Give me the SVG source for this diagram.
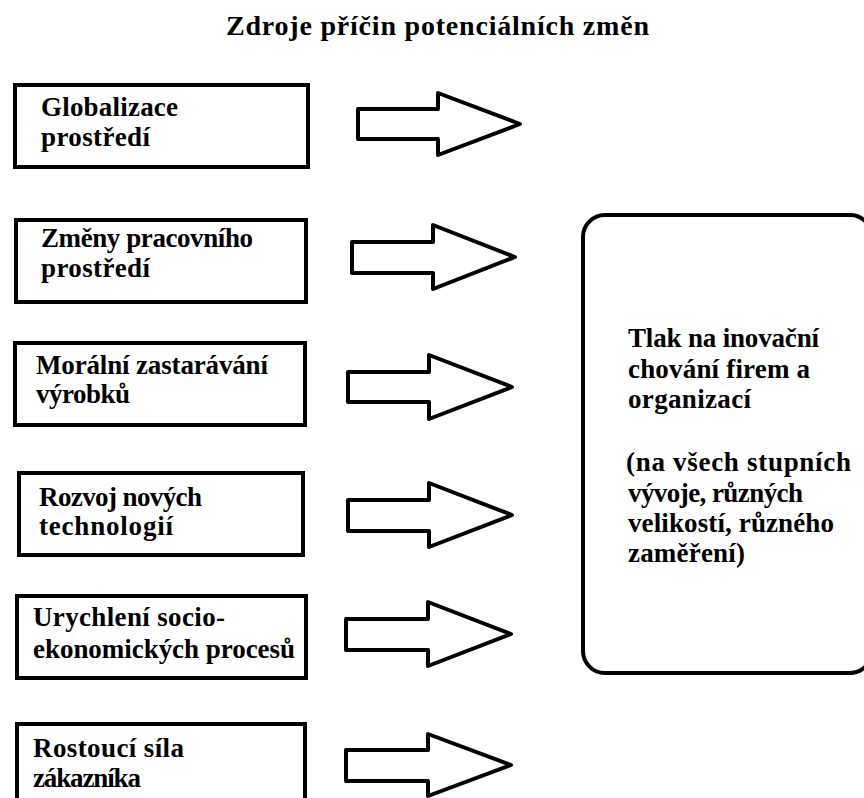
<svg xmlns="http://www.w3.org/2000/svg" width="864" height="798" viewBox="0 0 864 798">
<style>
  .bg { fill: #ffffff; }
  .box { fill: #ffffff; stroke: #000000; stroke-width: 4; }
  .arrow { fill: #ffffff; stroke: #000000; stroke-width: 4; stroke-linejoin: round; }
  text { font-family: "Liberation Serif", "Times New Roman", "DejaVu Serif", serif; font-weight: 700; font-size: 27px; fill: #000000; }
  .title { font-size: 28px; }
</style>
<rect class="bg" x="0" y="0" width="864" height="798"/>
<text class="title" x="226" y="35" textLength="423" lengthAdjust="spacing">Zdroje příčin potenciálních změn</text>

<g id="node-globalizace">
  <rect class="box" x="15" y="85" width="293" height="82"/>
  <text x="41" y="116" textLength="137" lengthAdjust="spacing">Globalizace</text>
  <text x="41" y="146" textLength="109" lengthAdjust="spacing">prostředí</text>
</g>
<g id="node-zmeny">
  <rect class="box" x="16" y="220" width="290" height="82"/>
  <text x="41" y="247" textLength="212" lengthAdjust="spacing">Změny pracovního</text>
  <text x="41" y="277" textLength="109" lengthAdjust="spacing">prostředí</text>
</g>
<g id="node-moralni">
  <rect class="box" x="15" y="343" width="290" height="82"/>
  <text x="36" y="374" textLength="232" lengthAdjust="spacing">Morální zastarávání</text>
  <text x="36" y="403" textLength="94" lengthAdjust="spacing">výrobků</text>
</g>
<g id="node-rozvoj">
  <rect class="box" x="19" y="473" width="284" height="82"/>
  <text x="39" y="506" textLength="163" lengthAdjust="spacing">Rozvoj nových</text>
  <text x="39" y="535" textLength="134" lengthAdjust="spacing">technologií</text>
</g>
<g id="node-urychleni">
  <rect class="box" x="17" y="596" width="289" height="82"/>
  <text x="33" y="626" textLength="192" lengthAdjust="spacing">Urychlení socio-</text>
  <text x="33" y="658" textLength="262" lengthAdjust="spacing">ekonomických procesů</text>
</g>
<g id="node-rostouci">
  <rect class="box" x="17" y="724" width="288" height="110"/>
  <text x="33" y="757" textLength="151" lengthAdjust="spacing">Rostoucí síla</text>
  <text x="33" y="787" textLength="108" lengthAdjust="spacing">zákazníka</text>
</g>
<g id="node-tlak">
  <rect class="box" x="583" y="215" width="289" height="458" rx="22" ry="22"/>
  <text x="628" y="347" textLength="191" lengthAdjust="spacing">Tlak na inovační</text>
  <text x="628" y="378" textLength="182" lengthAdjust="spacing">chování firem a</text>
  <text x="628" y="408" textLength="123" lengthAdjust="spacing">organizací</text>
  <text x="626" y="471" textLength="225" lengthAdjust="spacing">(na všech stupních</text>
  <text x="628" y="502" textLength="175" lengthAdjust="spacing">vývoje, různých</text>
  <text x="628" y="532" textLength="206" lengthAdjust="spacing">velikostí, různého</text>
  <text x="628" y="562" textLength="117" lengthAdjust="spacing">zaměření)</text>
</g>

<g id="connectors">
  <polygon class="arrow" points="358,109 438,109 438,93 520,124 438,155 438,139 358,139"/>
  <polygon class="arrow" points="352,242 433,242 433,225 515,257 433,289 433,273 352,273"/>
  <polygon class="arrow" points="348,372 429,372 429,355 512,387 429,419 429,402 348,402"/>
  <polygon class="arrow" points="348,500 429,500 429,483 512,515 429,547 429,531 348,531"/>
  <polygon class="arrow" points="346,619 428,619 428,602 511,634 428,666 428,650 346,650"/>
  <polygon class="arrow" points="346,750 428,750 428,734 511,765 428,796 428,781 346,781"/>
</g>
</svg>
